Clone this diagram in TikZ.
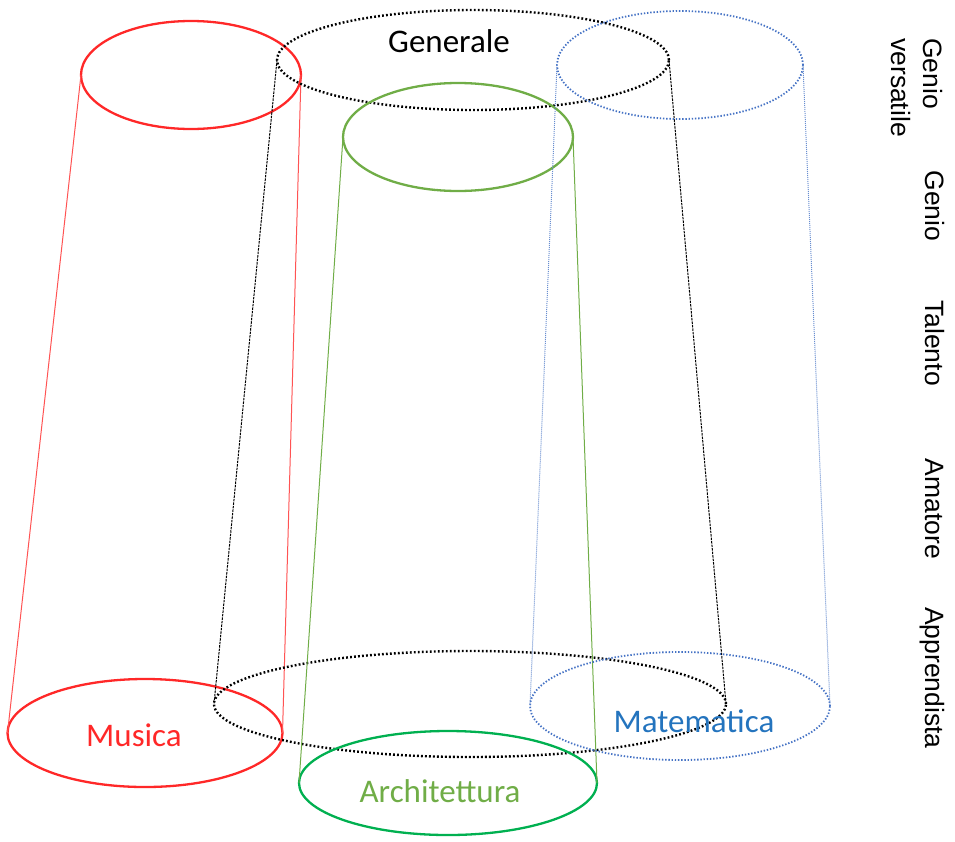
\documentclass[tikz,border=0pt]{standalone}
\usepackage{fontspec}
\setmainfont{Carlito}
\newfontfamily\arialf{Liberation Sans}
\usetikzlibrary{shapes.geometric}
\definecolor{cred}{RGB}{255,40,40}
\definecolor{cgreenl}{RGB}{112,173,71}
\definecolor{cgreenb}{RGB}{0,176,80}
\definecolor{cbluedot}{RGB}{68,114,196}
\definecolor{cbluetxt}{RGB}{36,116,190}
\begin{document}
\begin{tikzpicture}[x=1pt,y=-1pt,
  ell/.style={ellipse,inner sep=0pt,outer sep=0pt,line width=2.3pt},
  dotell/.style={ell,line width=2.4pt,dash pattern=on 1.8pt off 2.2pt},
  bdotell/.style={ell,line width=1.8pt,dash pattern=on 1.4pt off 1.8pt},
  side/.style={line width=1pt},
  lab/.style={font=\fontsize{33}{38}\selectfont,inner sep=0pt,anchor=base},
  lvl/.style={font=\arialf\fontsize{26.5}{32}\selectfont,inner sep=0pt,rotate=-90,anchor=base}
]
\useasboundingbox (0,0) rectangle (955,841);
% red cylinder
\node[ell,draw=cred,minimum width=220pt,minimum height=108pt] (rtop) at (191,75) {};
\node[ell,draw=cred,minimum width=275pt,minimum height=108pt] (rbot) at (145,733) {};
\draw[side,cred!80] (rtop.west) -- (rbot.west);
\draw[side,cred!80] (rtop.east) -- (rbot.east);
% black cylinder
\node[dotell,draw=black,minimum width=392pt,minimum height=100pt] (ktop) at (473,60) {};
\node[dotell,draw=black,minimum width=512pt,minimum height=106pt] (kbot) at (470,704) {};
\draw[side,black,dash pattern=on 2.5pt off 1pt] (ktop.west) -- (kbot.west);
\draw[side,black,dash pattern=on 2.5pt off 1pt] (ktop.east) -- (kbot.east);
% green cylinder
\node[ell,draw=cgreenl,minimum width=230pt,minimum height=108pt] (gtop) at (458,137) {};
\node[ell,draw=cgreenb,minimum width=298pt,minimum height=104pt] (gbot) at (448,783) {};
\draw[side,cgreenl] (gtop.west) -- (gbot.west);
\draw[side,cgreenl] (gtop.east) -- (gbot.east);
% blue cylinder
\node[bdotell,draw=cbluedot,minimum width=246pt,minimum height=108pt] (btop) at (680,65) {};
\node[bdotell,draw=cbluedot,minimum width=300pt,minimum height=108pt] (bbot) at (680,706) {};
\draw[side,cbluedot!80,dash pattern=on 1pt off 1pt] (btop.west) -- (bbot.west);
\draw[side,cbluedot!80,dash pattern=on 1pt off 1pt] (btop.east) -- (bbot.east);
% labels
\node[lab,text=black] (tgen) at (449,52) {Generale};
\node[lab,text=cred] (tmus) at (134,746) {Musica};
\node[lab,text=cgreenl] (tarc) at (440,802) {Architettura};
\node[lab,text=cbluetxt] (tmat) at (694,732) {Matematica};
% levels
\node[lvl,align=left,anchor=base west] (lv1) at (891,38) {Genio\\versatile};
\node[lvl] (lv2) at (925,206) {Genio};
\node[lvl] (lv3) at (925,343) {Talento};
\node[lvl] (lv4) at (925,509) {Amatore};
\node[lvl] (lv5) at (925,678) {Apprendista};
\end{tikzpicture}
\end{document}
